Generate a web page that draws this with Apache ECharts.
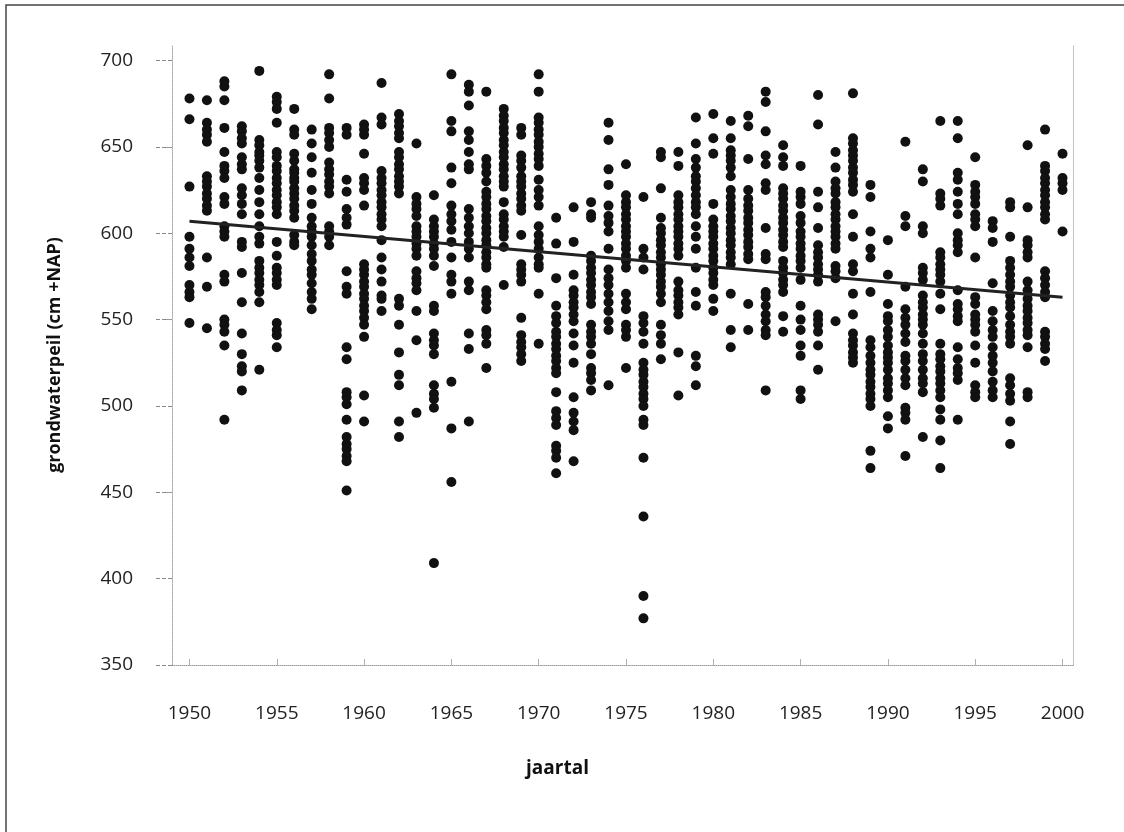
<!DOCTYPE html>
<html>
<head>
<meta charset="utf-8">
<title>grondwaterpeil</title>
<script src="https://cdn.jsdelivr.net/npm/echarts@6/dist/echarts.min.js"></script>
<style>
  html, body { margin: 0; padding: 0; background: #fff; }
  #chart { width: 1124px; height: 832px; }
</style>
</head>
<body>
<div id="chart"></div>
<script>
// jaren op de x-as
const years = [
  1950, 1951, 1952, 1953, 1954, 1955, 1956, 1957, 1958, 1959,
  1960, 1961, 1962, 1963, 1964, 1965, 1966, 1967, 1968, 1969,
  1970, 1971, 1972, 1973, 1974, 1975, 1976, 1977, 1978, 1979,
  1980, 1981, 1982, 1983, 1984, 1985, 1986, 1987, 1988, 1989,
  1990, 1991, 1992, 1993, 1994, 1995, 1996, 1997, 1998, 1999, 2000
]
const peil = [
  [678, 666, 627, 598, 591, 586, 581, 570, 566, 563, 548],
  [677, 664, 660, 657, 653, 633, 630, 627, 623, 620, 616, 613, 586, 569, 545],
  [688, 685, 677, 661, 647, 639, 636, 632, 621, 617, 604, 601, 598, 576, 572, 550, 547, 543, 535, 492],
  [662, 659, 655, 652, 644, 640, 637, 626, 622, 617, 611, 595, 592, 577, 560, 542, 530, 523, 520, 509],
  [694, 654, 651, 647, 645, 642, 638, 632, 625, 618, 611, 604, 598, 594, 584, 580, 577, 573, 570, 566, 560, 521],
  [679, 676, 672, 664, 647, 644, 639, 636, 632, 629, 625, 622, 618, 615, 611, 595, 587, 580, 577, 573, 570, 548, 544, 541, 534],
  [672, 660, 657, 646, 642, 637, 635, 632, 630, 626, 623, 620, 616, 613, 609, 599, 595, 593],
  [660, 652, 644, 635, 625, 617, 609, 604, 601, 598, 593, 588, 584, 579, 576, 571, 566, 562, 556],
  [692, 678, 661, 658, 654, 650, 641, 637, 634, 630, 627, 623, 604, 601, 598, 593],
  [661, 657, 631, 624, 614, 609, 605, 578, 569, 565, 534, 527, 508, 505, 501, 492, 482, 478, 475, 471, 468, 451],
  [663, 660, 657, 646, 632, 629, 625, 616, 582, 579, 576, 572, 569, 565, 562, 558, 555, 551, 547, 540, 506, 491],
  [687, 667, 663, 636, 632, 629, 625, 622, 618, 615, 611, 608, 604, 596, 586, 579, 572, 564, 562, 555],
  [669, 665, 662, 658, 655, 647, 644, 640, 637, 633, 630, 627, 623, 562, 558, 547, 531, 518, 512, 491, 482],
  [652, 621, 617, 614, 610, 604, 601, 598, 594, 591, 587, 578, 574, 571, 567, 555, 538, 496],
  [622, 608, 604, 601, 598, 594, 591, 587, 581, 558, 555, 542, 538, 535, 530, 512, 507, 504, 499, 409],
  [692, 665, 659, 638, 629, 616, 611, 607, 602, 595, 586, 576, 572, 565, 514, 487, 456],
  [686, 682, 674, 659, 654, 647, 640, 637, 614, 609, 604, 600, 595, 591, 586, 572, 567, 542, 533, 491],
  [682, 643, 639, 635, 630, 624, 621, 617, 614, 610, 607, 603, 600, 596, 593, 589, 586, 582, 580, 567, 564, 560, 556, 544, 541, 536, 522],
  [672, 668, 665, 661, 658, 654, 651, 647, 644, 640, 637, 633, 630, 627, 618, 611, 608, 604, 601, 598, 592, 570],
  [661, 657, 645, 642, 638, 633, 630, 627, 623, 620, 616, 613, 599, 582, 579, 576, 572, 551, 541, 537, 534, 530, 526],
  [692, 682, 667, 664, 660, 657, 653, 650, 646, 643, 639, 631, 625, 621, 616, 604, 599, 595, 591, 586, 582, 580, 565, 536],
  [609, 594, 574, 558, 552, 548, 543, 540, 536, 533, 529, 526, 522, 519, 508, 497, 493, 489, 477, 474, 470, 461],
  [615, 595, 576, 567, 564, 560, 557, 553, 549, 542, 535, 525, 505, 496, 491, 486, 468],
  [618, 611, 609, 587, 584, 580, 577, 573, 570, 566, 563, 559, 547, 543, 540, 536, 530, 522, 519, 515, 509],
  [664, 654, 637, 628, 616, 610, 606, 601, 591, 579, 574, 570, 565, 560, 555, 549, 544, 512],
  [640, 622, 618, 615, 611, 608, 604, 601, 598, 594, 591, 587, 584, 580, 565, 560, 556, 547, 544, 540, 522],
  [621, 591, 586, 579, 552, 548, 543, 536, 525, 521, 518, 514, 511, 507, 504, 500, 492, 489, 470, 436, 390, 377],
  [647, 644, 626, 609, 603, 600, 596, 593, 589, 586, 582, 579, 576, 572, 569, 565, 560, 547, 541, 536, 527],
  [647, 639, 622, 618, 615, 611, 608, 604, 601, 598, 594, 591, 587, 572, 567, 564, 560, 557, 553, 531, 506],
  [667, 652, 643, 638, 633, 630, 626, 622, 618, 615, 611, 604, 598, 591, 580, 566, 558, 529, 523, 512],
  [669, 655, 646, 617, 608, 604, 601, 598, 594, 591, 587, 584, 580, 577, 573, 570, 562, 555],
  [665, 655, 648, 645, 642, 638, 633, 625, 621, 617, 614, 610, 607, 603, 600, 596, 593, 589, 586, 582, 565, 544, 534],
  [668, 662, 643, 625, 620, 616, 613, 609, 606, 602, 599, 595, 592, 588, 585, 559, 544],
  [682, 676, 659, 645, 640, 629, 625, 603, 588, 585, 566, 563, 558, 553, 549, 544, 541, 509],
  [651, 644, 639, 626, 623, 620, 616, 613, 609, 606, 602, 599, 595, 592, 584, 580, 577, 573, 570, 566, 552, 543],
  [639, 624, 621, 617, 610, 606, 601, 598, 594, 591, 587, 584, 580, 573, 558, 550, 544, 535, 529, 509, 504],
  [680, 663, 624, 615, 603, 593, 589, 586, 582, 579, 576, 572, 553, 550, 547, 543, 535, 521],
  [647, 638, 630, 626, 623, 618, 615, 611, 608, 604, 601, 598, 594, 591, 581, 578, 574, 549],
  [681, 655, 652, 648, 645, 642, 638, 635, 631, 628, 624, 611, 598, 582, 578, 565, 553, 542, 538, 535, 531, 528, 525],
  [628, 621, 601, 591, 586, 566, 538, 534, 529, 525, 521, 518, 514, 511, 507, 504, 500, 474, 464],
  [596, 576, 559, 552, 549, 544, 540, 535, 531, 528, 525, 521, 516, 513, 509, 505, 494, 487],
  [653, 610, 604, 569, 556, 551, 547, 542, 537, 529, 526, 521, 516, 512, 499, 496, 492, 471],
  [637, 630, 604, 600, 580, 577, 573, 564, 560, 557, 553, 550, 547, 542, 536, 530, 526, 521, 516, 513, 508, 482],
  [665, 623, 620, 616, 589, 586, 582, 579, 576, 572, 565, 556, 536, 530, 527, 523, 520, 516, 513, 509, 505, 498, 492, 480, 464],
  [665, 655, 635, 631, 624, 617, 611, 600, 596, 593, 589, 567, 559, 556, 552, 549, 534, 527, 522, 519, 515, 492],
  [644, 628, 624, 621, 617, 611, 608, 604, 586, 563, 559, 553, 550, 547, 543, 535, 525, 512, 508, 505],
  [607, 603, 595, 571, 555, 549, 544, 540, 534, 529, 525, 520, 514, 509, 505],
  [618, 615, 598, 584, 580, 576, 572, 569, 564, 560, 557, 552, 547, 543, 540, 536, 516, 512, 507, 503, 491, 478],
  [651, 615, 596, 593, 589, 586, 572, 567, 562, 558, 555, 551, 548, 544, 541, 534, 508, 505],
  [660, 639, 636, 632, 629, 625, 622, 618, 615, 611, 608, 578, 574, 570, 566, 563, 543, 540, 536, 533, 526],
  [646, 632, 629, 625, 601]
]
const trendYears = [1950, 2000]
const trendValues = [607, 563]
// aslabels
const xTicks = [1950, 1955, 1960, 1965, 1970, 1975, 1980, 1985, 1990, 1995, 2000]
const yTicks = [350, 400, 450, 500, 550, 600, 650, 700]

const points = []
years.forEach((jaar, i) => {
  peil[i].forEach((v) => points.push([jaar, v]))
})
const trend = trendYears.map((j, i) => [j, trendValues[i]])

const chart = echarts.init(document.getElementById('chart'), null, { renderer: 'canvas' })
const fontFamily = '"Open Sans", "Noto Sans", sans-serif'

chart.setOption({
  backgroundColor: '#ffffff',
  animation: false,
  textStyle: { fontFamily: fontFamily },
  grid: { left: 172, right: 51, top: 45, bottom: 167, containLabel: false },
  xAxis: {
    type: 'value',
    min: 1949,
    max: 2000.6,
    name: 'jaartal',
    nameLocation: 'middle',
    nameGap: 94,
    nameTextStyle: {
      fontSize: 19, fontWeight: 'bold', color: '#111', fontFamily: fontFamily,
      padding: [0, 130, 0, 0]
    },
    splitLine: { show: false },
    axisLine: { show: true, lineStyle: { color: '#9a9a9a', width: 1, type: 'dotted' } },
    axisTick: {
      show: true, length: 6, inside: true, customValues: xTicks,
      lineStyle: { color: '#b0b0b0', width: 1 }
    },
    axisLabel: {
      customValues: xTicks, margin: 39, fontSize: 19, color: '#222',
      fontFamily: fontFamily, formatter: (v) => String(v)
    }
  },
  yAxis: [
    {
      type: 'value',
      min: 350,
      max: 709,
      name: 'grondwaterpeil (cm +NAP)',
      nameLocation: 'middle',
      nameGap: 108,
      nameRotate: 90,
      nameTextStyle: { fontSize: 18, fontWeight: 'bold', color: '#111', fontFamily: fontFamily },
      splitLine: { show: false },
      axisLine: { show: true, lineStyle: { color: '#a5a5a5', width: 1, type: 'dotted' } },
      axisTick: {
        show: true, length: 17, customValues: yTicks,
        lineStyle: { color: '#888', width: 1, type: 'dashed' }
      },
      minorTick: { show: true, splitNumber: 2, length: 6, lineStyle: { color: '#999' } },
      axisLabel: {
        customValues: yTicks, margin: 39, fontSize: 19, color: '#222', fontFamily: fontFamily
      }
    },
    {
      type: 'value',
      position: 'right',
      min: 350,
      max: 709,
      splitLine: { show: false },
      axisLine: { show: true, lineStyle: { color: '#b5b5b5', width: 1, type: 'dotted' } },
      axisTick: { show: false },
      axisLabel: { show: false }
    }
  ],
  graphic: [
    {
      type: 'polyline',
      shape: { points: [[6, 832], [6, 5], [1124, 5]] },
      style: { stroke: '#444', lineWidth: 1.5, fill: null },
      silent: true
    }
  ],
  series: [
    {
      name: 'metingen',
      type: 'scatter',
      yAxisIndex: 0,
      data: points,
      symbol: 'circle',
      symbolSize: 10,
      itemStyle: { color: '#111', opacity: 1 },
      z: 2
    },
    {
      name: 'trend',
      type: 'line',
      yAxisIndex: 0,
      data: trend,
      showSymbol: false,
      symbol: 'none',
      lineStyle: { color: '#222', width: 3 },
      z: 3
    }
  ]
})
</script>
</body>
</html>
